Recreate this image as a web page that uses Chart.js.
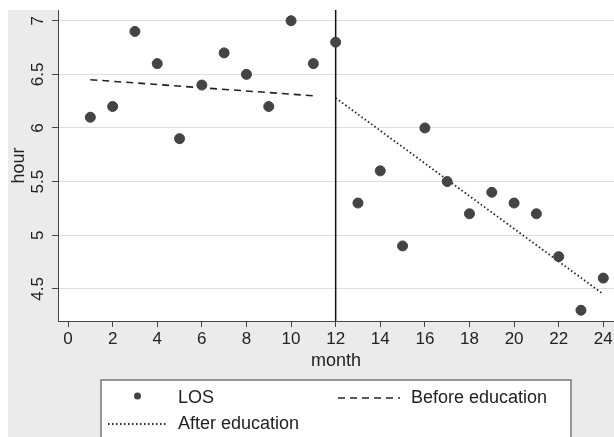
<!DOCTYPE html>
<html>
<head>
<title>LOS before and after education</title>
<script src="https://cdn.jsdelivr.net/npm/chart.js@4.4.0/dist/chart.umd.min.js"></script>
<style>
    html, body { margin: 0; padding: 0; background: #fff; overflow: hidden; }
    canvas { display: block; }
</style>
</head>
<body>

<canvas id="losChart" width="614" height="437"></canvas>

<script>
    // data
    const months = [1, 2, 3, 4, 5, 6, 7, 8, 9, 10, 11, 12, 13, 14, 15, 16, 17, 18, 19, 20, 21, 22, 23, 24];
    const losHours = [6.1, 6.2, 6.9, 6.6, 5.9, 6.4, 6.7, 6.5, 6.2, 7.0, 6.6, 6.8, 5.3, 5.6, 4.9, 6.0, 5.5, 5.2, 5.4, 5.3, 5.2, 4.8, 4.3, 4.6];
    const beforeMonths = [1, 11];
    const beforeFit = [6.45, 6.30];
    const afterMonths = [12, 24];
    const afterFit = [6.28, 4.45];
    const educationMonth = 12;
    const xTicks = [0, 2, 4, 6, 8, 10, 12, 14, 16, 18, 20, 22, 24];
    const yTicks = [4.5, 5, 5.5, 6, 6.5, 7];

    const FONT = "'Liberation Sans', Arial, sans-serif";
    const INK = "#222";

    const toPoints = (xs, ys) => xs.map((x, i) => ({ x: x, y: ys[i] }));

    // gray panel behind everything, white plot region
    const panel = {
        id: "panel",
        beforeDraw(chart) {
            const ctx = chart.ctx, a = chart.chartArea;
            ctx.save();
            ctx.fillStyle = "#fff";
            ctx.fillRect(0, 0, chart.width, chart.height);
            ctx.fillStyle = "#ebebeb";
            ctx.fillRect(8, 10, chart.width - 8, chart.height - 10);
            ctx.fillStyle = "#fff";
            ctx.fillRect(a.left, a.top, a.right - a.left, a.bottom - a.top);
            ctx.restore();
        }
    };

    // vertical line where education starts
    const divider = {
        id: "divider",
        beforeDatasetsDraw(chart) {
            const ctx = chart.ctx, a = chart.chartArea;
            const px = chart.scales.x.getPixelForValue(educationMonth);
            ctx.save();
            ctx.strokeStyle = "#111";
            ctx.lineWidth = 1.5;
            ctx.beginPath();
            ctx.moveTo(px, a.top);
            ctx.lineTo(px, a.bottom);
            ctx.stroke();
            ctx.restore();
        }
    };

    // y tick labels turned sideways
    const sideLabels = {
        id: "sideLabels",
        afterDraw(chart) {
            const ctx = chart.ctx, y = chart.scales.y;
            ctx.save();
            ctx.fillStyle = INK;
            ctx.font = "17px " + FONT;
            ctx.textAlign = "center";
            ctx.textBaseline = "middle";
            for (const v of yTicks) {
                ctx.save();
                ctx.translate(chart.chartArea.left - 20, y.getPixelForValue(v));
                ctx.rotate(-Math.PI / 2);
                ctx.fillText(String(v), 0, 0);
                ctx.restore();
            }
            ctx.restore();
        }
    };

    // boxed legend under the axis
    const boxLegend = {
        id: "boxLegend",
        afterDraw(chart) {
            const ctx = chart.ctx, a = chart.chartArea;
            const w = 470, left = (a.left + a.right) / 2 - w / 2, top = 380;
            const ds = chart.data.datasets;
            const slots = [
                { d: ds[0], col: 0, row: 0 },
                { d: ds[1], col: 1, row: 0 },
                { d: ds[2], col: 0, row: 1 }
            ];
            ctx.save();
            ctx.fillStyle = "#fff";
            ctx.fillRect(left, top, w, 80);
            ctx.strokeStyle = "#777";
            ctx.lineWidth = 1.5;
            ctx.strokeRect(left, top, w, 80);
            ctx.font = "18px " + FONT;
            ctx.textBaseline = "middle";
            for (const s of slots) {
                const x0 = left + (s.col ? 237 : 7), x1 = left + (s.col ? 299 : 66);
                const cy = top + (s.row ? 44 : 18);
                if (s.d.showLine) {
                    ctx.strokeStyle = s.d.borderColor;
                    ctx.lineWidth = s.d.borderWidth;
                    ctx.setLineDash(s.d.borderDash);
                    ctx.beginPath();
                    ctx.moveTo(x0, cy);
                    ctx.lineTo(x1, cy);
                    ctx.stroke();
                    ctx.setLineDash([]);
                } else {
                    ctx.fillStyle = s.d.backgroundColor;
                    ctx.beginPath();
                    ctx.arc((x0 + x1) / 2, cy - 2, 3.5, 0, Math.PI * 2);
                    ctx.fill();
                }
                ctx.fillStyle = INK;
                ctx.fillText(s.d.label, x1 + 11, cy);
            }
            ctx.restore();
        }
    };

    const chart = new Chart(document.getElementById("losChart"), {
        type: "scatter",
        data: {
            datasets: [
                {
                    label: "LOS",
                    data: toPoints(months, losHours),
                    backgroundColor: "#444",
                    borderColor: "#444",
                    pointRadius: 5,
                    pointHoverRadius: 5
                },
                {
                    label: "Before education",
                    data: toPoints(beforeMonths, beforeFit),
                    showLine: true,
                    borderColor: "#222",
                    borderWidth: 1.6,
                    borderDash: [7, 5],
                    pointRadius: 0
                },
                {
                    label: "After education",
                    data: toPoints(afterMonths, afterFit),
                    showLine: true,
                    borderColor: "#222",
                    borderWidth: 1.8,
                    borderDash: [1.5, 2.5],
                    pointRadius: 0
                }
            ]
        },
        options: {
            responsive: false,
            animation: false,
            devicePixelRatio: 1,
            // no auto padding: the plot runs right up to the canvas edge
            layout: { autoPadding: false, padding: { left: 8, top: 10, right: 0, bottom: 58 } },
            plugins: {
                legend: { display: false },
                tooltip: { enabled: false }
            },
            scales: {
                x: {
                    type: "linear",
                    min: -0.45,
                    max: 24.48,
                    afterBuildTicks: s => { s.ticks = xTicks.map(v => ({ value: v })); },
                    afterFit: s => { s.height = 58; s.paddingRight = 0; },
                    grid: { drawOnChartArea: false, tickColor: "#444", tickLength: 6 },
                    border: { color: "#444", width: 1 },
                    ticks: { font: { family: FONT, size: 17 }, color: INK, padding: 2, maxRotation: 0 },
                    title: { display: true, text: "month", font: { family: FONT, size: 18 }, color: INK, padding: { top: 0, bottom: 7 } }
                },
                y: {
                    min: 4.2,
                    max: 7.1,
                    afterBuildTicks: s => { s.ticks = yTicks.map(v => ({ value: v })); },
                    afterFit: s => { s.width = 50; },
                    grid: { color: "#dedede", tickColor: "#444", tickLength: 6 },
                    border: { color: "#444", width: 1 },
                    ticks: { display: false },
                    title: { display: true, text: "hour", font: { family: FONT, size: 18 }, color: INK, padding: 0 }
                }
            }
        },
        plugins: [panel, divider, sideLabels, boxLegend]
    });
</script>
</body>
</html>
